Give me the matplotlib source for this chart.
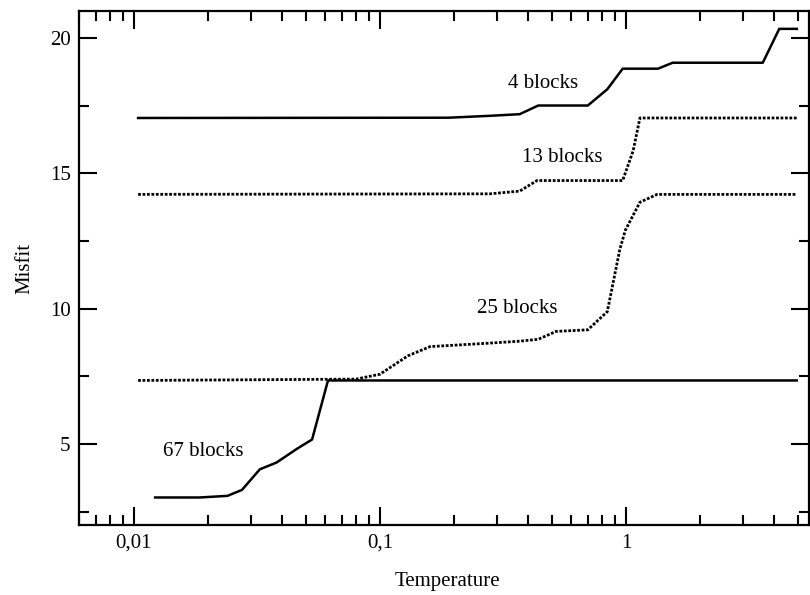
import matplotlib
matplotlib.use("Agg")
import matplotlib.pyplot as plt
from matplotlib.ticker import FixedLocator, FixedFormatter, LogLocator, NullFormatter, MultipleLocator

plt.rcParams['font.family'] = ['Liberation Serif', 'DejaVu Serif']

# Data
t_4 = [0.0104, 0.19, 0.28, 0.37, 0.44, 0.70, 0.84, 0.97, 1.35, 1.55, 3.6, 4.2, 4.95]
y_4 = [17.04, 17.05, 17.12, 17.18, 17.5, 17.5, 18.1, 18.86, 18.86, 19.08, 19.08, 20.33, 20.33]

t_13 = [0.0104, 0.28, 0.37, 0.435, 0.97, 1.07, 1.14, 4.95]
y_13 = [14.22, 14.24, 14.34, 14.73, 14.73, 15.83, 17.04, 17.04]

t_25 = [0.0104, 0.08, 0.1, 0.13, 0.16, 0.27, 0.37, 0.44, 0.52, 0.70, 0.84, 0.945, 0.995, 1.14, 1.34, 4.95]
y_25 = [7.35, 7.40, 7.58, 8.26, 8.6, 8.72, 8.8, 8.87, 9.16, 9.22, 9.89, 12.2, 12.9, 13.93, 14.22, 14.22]

t_67 = [0.0122, 0.0185, 0.024, 0.0275, 0.0325, 0.038, 0.0464, 0.053, 0.0615, 4.95]
y_67 = [3.03, 3.03, 3.09, 3.31, 4.07, 4.32, 4.85, 5.17, 7.35, 7.35]

labels = ["4 blocks", "13 blocks", "25 blocks", "67 blocks"]
label_t = [0.46, 0.55, 0.36, 0.0191]
label_y = [18.3, 15.59, 10.01, 4.74]

x_ticks = [0.01, 0.1, 1]
x_ticklabels = ["0,01", "0,1", "1"]
y_ticks = [5, 10, 15, 20]

fig = plt.figure(figsize=(8.1, 5.95), dpi=100)
ax = fig.add_axes([0.0975, 0.117, 0.9013, 0.865])

ax.plot(t_4, y_4, color='black', lw=1.8, ls='-')
ax.plot(t_13, y_13, color='black', lw=2.0, ls=(0, (1, 0.6)))
ax.plot(t_25, y_25, color='black', lw=2.0, ls=(0, (1, 0.6)))
ax.plot(t_67, y_67, color='black', lw=1.8, ls='-')

for lab, tx, ty in zip(labels, label_t, label_y):
    ax.text(tx, ty, lab, ha='center', va='center', fontsize=15)

ax.set_xscale('log')
ax.set_xlim(0.00598, 5.55)
ax.set_ylim(2, 21)
ax.xaxis.set_major_locator(FixedLocator(x_ticks))
ax.xaxis.set_major_formatter(FixedFormatter(x_ticklabels))
ax.xaxis.set_minor_locator(LogLocator(base=10, subs=range(2, 10), numticks=20))
ax.xaxis.set_minor_formatter(NullFormatter())
ax.yaxis.set_major_locator(FixedLocator(y_ticks))
ax.yaxis.set_minor_locator(MultipleLocator(2.5))

ax.tick_params(which='both', direction='in', top=True, right=True, width=1.5, labelsize=15, pad=6)
ax.tick_params(which='major', length=13)
ax.tick_params(which='minor', length=7)
for s in ax.spines.values():
    s.set_linewidth(1.6)

ax.set_xlabel("Temperature", fontsize=15, va='center')
ax.xaxis.set_label_coords(0.505, -0.11)
ax.set_ylabel("Misfit", fontsize=15, va='center')
ax.yaxis.set_label_coords(-0.074, 0.5)

fig.savefig("out.png", dpi=100)
